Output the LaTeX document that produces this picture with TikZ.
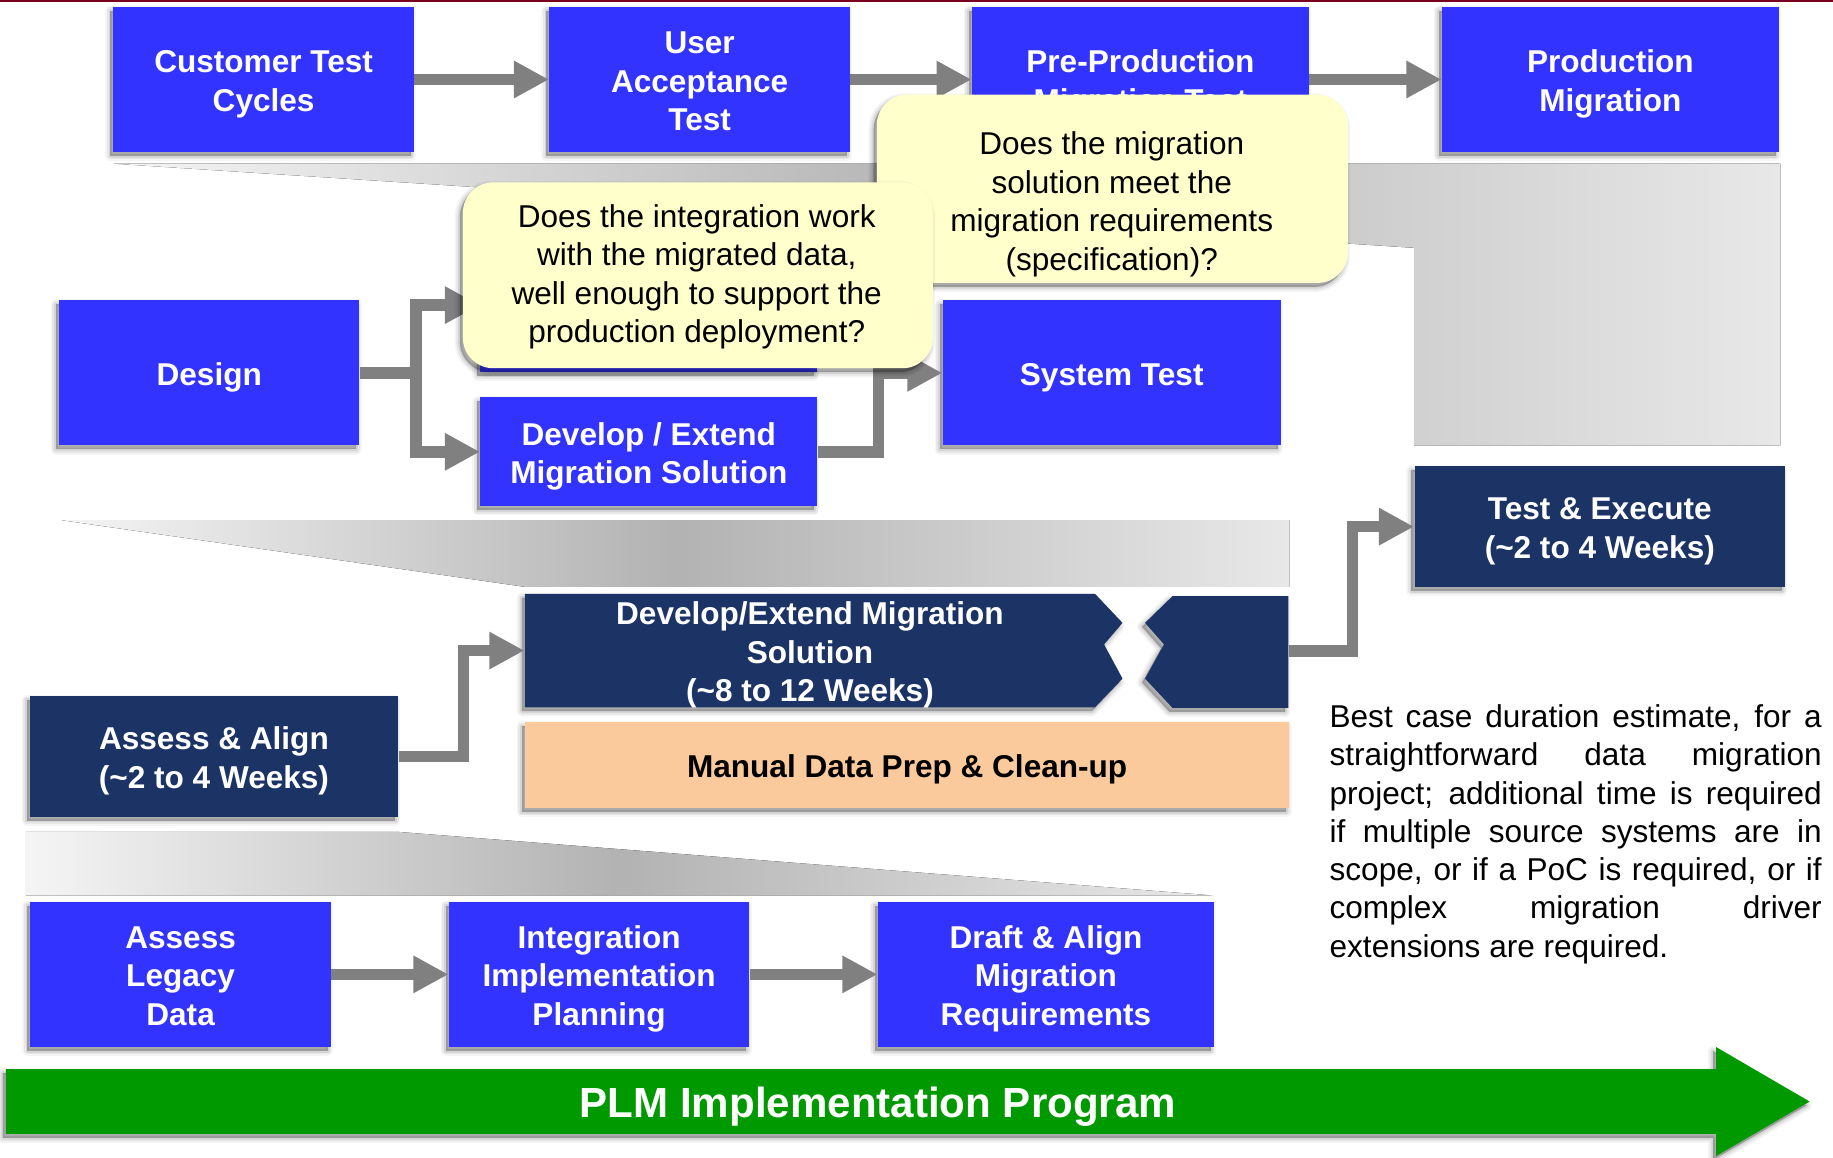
\documentclass[tikz,border=0pt]{standalone}
\usepackage{fontspec}
\setmainfont{Liberation Sans}
\usetikzlibrary{arrows.meta,shadows}
\definecolor{bbox}{RGB}{51,51,255}
\definecolor{navy}{RGB}{28,51,102}
\definecolor{peach}{RGB}{250,202,156}
\definecolor{cyellow}{RGB}{255,255,204}
\definecolor{cgray}{RGB}{128,128,128}
\definecolor{garrow}{RGB}{0,153,0}
\definecolor{redline}{RGB}{122,0,32}
\newcommand\Tst{\rule{0pt}{13.7pt}}
\newcommand\Bst{\rule[-3pt]{0pt}{3pt}}
\tikzset{
  sh/.style={general shadow={shadow xshift=-1.3pt, shadow yshift=-1.7pt, fill=black, draw=black, line join=round, line width=4.5pt, opacity=0.04},
             general shadow={shadow xshift=-1.3pt, shadow yshift=-1.7pt, fill=black, draw=black, line join=round, line width=3pt, opacity=0.06},
             general shadow={shadow xshift=-1.3pt, shadow yshift=-1.7pt, fill=black, draw=black, line join=round, line width=1.5pt, opacity=0.08},
             general shadow={shadow xshift=-1.3pt, shadow yshift=-1.7pt, fill=black, opacity=0.12}},
  boxfont/.style={font=\fontsize{13.5}{16.5}\selectfont\bfseries},
  bb/.style={rectangle, fill=bbox, text=white, boxfont, align=center, inner sep=0pt, sh},
  nb/.style={rectangle, fill=navy, text=white, boxfont, align=center, inner sep=0pt, sh},
  callout/.style={rectangle, rounded corners=13pt, fill=cyellow, inner sep=0pt, sh},
  ctext/.style={font=\fontsize{13.5}{16.5}\selectfont, align=center, text=black, inner sep=0pt},
  conn/.style={draw=cgray, line width=5pt},
  arr/.style={conn, -{Triangle[length=15pt,width=15pt]}},
  wedge/.style={left color=black!4, right color=black!9, middle color=black!30},
}
\begin{document}
\begin{tikzpicture}[x=0.5pt,y=-0.5pt]
\useasboundingbox (0,0) rectangle (1568,990);
\fill[redline] (0,0) rectangle (1568,1.8);

% wedges
\fill[wedge] (97,140) -- (1523,140) -- (1523,381) -- (1209.6,381) -- (1209.6,212) -- cycle;
\fill[wedge] (53,445) -- (1103,445) -- (1103,502) -- (449,502) -- cycle;
\fill[wedge] (22,711.5) -- (339,711.5) -- (1037.5,766) -- (22,766) -- cycle;

% top row
\node[bb, minimum width=128.5pt, minimum height=62pt] (cust) at (225.5,68) {\Tst Customer Test\\Cycles\Bst};
\node[bb, minimum width=128.5pt, minimum height=62pt] (uat) at (598.5,68) {\Tst User\\Acceptance\\Test\Bst};
\node[bb, minimum width=144pt, minimum height=62pt] (preprod) at (975.5,68) {\Tst Pre-Production\\Migration Test\Bst};
\node[bb, minimum width=144pt, minimum height=62pt] (prod) at (1377.5,68) {\Tst Production\\Migration\Bst};
\draw[arr] (cust.east) -- (uat.west);
\draw[arr] (uat.east) -- (preprod.west);
\draw[arr] (preprod.east) -- (prod.west);

% second row
\node[bb, minimum width=128.5pt, minimum height=62pt] (design) at (179,319) {\Tst Design\Bst};
\node[bb, minimum width=144pt, minimum height=57pt] (integ) at (555,261) {};
\node[bb, minimum width=144pt, minimum height=46.5pt] (devext) at (555,386.5) {\Tst Develop / Extend\\Migration Solution\Bst};
\node[bb, minimum width=144.5pt, minimum height=62pt] (systest) at (951,319) {\Tst System Test\Bst};
\coordinate (br) at (356,319);
\coordinate (j2) at (751.5,386.5);
\draw[conn] (design.east) -- (br);
\draw[conn, {Triangle[length=15pt,width=15pt]}-{Triangle[length=15pt,width=15pt]}] (integ.west) -| (br) |- (devext.west);
\draw[arr] (devext.east) -- (j2) |- (systest.west);

% third row
\node[nb, minimum width=158.5pt, minimum height=51.5pt] (testexec) at (1368.5,450.5) {\Tst Test \& Execute\\(\textasciitilde2 to 4 Weeks)\Bst};
\fill[navy, sh] (449,508) -- (936.7,508) -- (960.2,532.8) -- (944.4,551.2) -- (960.2,580.5) -- (936.7,605) -- (449,605) -- cycle;
\fill[navy, sh] (1003,509.9) -- (1102,509.9) -- (1102,605.6) -- (1003,605.6) -- (979.5,580.5) -- (995.7,551.2) -- (979.5,532.8) -- cycle;
\node[boxfont, text=white, align=center, inner sep=0pt, minimum width=243.85pt, minimum height=48.5pt] (ddev) at (692.85,556.5) {\Tst Develop/Extend Migration\\Solution\\(\textasciitilde8 to 12 Weeks)\Bst};
\node[inner sep=0pt, minimum width=61.25pt, minimum height=48pt] (ddevR) at (1040.75,557) {};
\node[rectangle, fill=peach, text=black, boxfont, inner sep=0pt, minimum width=327pt, minimum height=36.5pt, sh] (manual) at (776,654.5) {\Tst Manual Data Prep \& Clean-up\Bst};
\node[nb, minimum width=157.5pt, minimum height=51.5pt] (assess) at (183,647) {\Tst Assess \& Align\\(\textasciitilde2 to 4 Weeks)\Bst};
\coordinate (j3) at (396.5,647);
\coordinate (j4) at (1157,557);
\draw[arr] (assess.east) -- (j3) |- (ddev.west);
\draw[arr] (ddevR.east) -- (j4) |- (testexec.west);

% bottom row
\node[bb, minimum width=128.5pt, minimum height=62pt] (legacy) at (154.5,833.5) {\Tst Assess\\Legacy\\Data\Bst};
\node[bb, minimum width=128.5pt, minimum height=62pt] (integplan) at (512.5,833.5) {\Tst Integration\\Implementation\\Planning\Bst};
\node[bb, minimum width=143.75pt, minimum height=62pt] (draft) at (894.75,833.5) {\Tst Draft \& Align\\Migration\\Requirements\Bst};
\draw[arr] (legacy.east) -- (integplan.west);
\draw[arr] (integplan.east) -- (draft.west);

% green program arrow
\fill[garrow, sh] (5,914.5) -- (1468,914.5) -- (1468,895.7) -- (1548,942.3) -- (1468,988.9) -- (1468,970) -- (5,970) -- cycle;
\node[font=\fontsize{18}{21}\selectfont\bfseries, text=white, inner sep=0pt] (plm) at (751,947) {PLM Implementation Program};

% note text
\node[anchor=north west, inner sep=0pt, align=left, font=\fontsize{13.5}{16.35}\selectfont] (note) at (1137,602.5) {%
\makebox[210.5pt][s]{Best case duration estimate, for a}\\
\makebox[210.5pt][s]{straightforward data migration}\\
\makebox[210.5pt][s]{project; additional time is required}\\
\makebox[210.5pt][s]{if multiple source systems are in}\\
\makebox[210.5pt][s]{scope, or if a PoC is required, or if}\\
\makebox[210.5pt][s]{complex migration driver}\\
extensions are required.};

% callouts
\node[callout, minimum width=201.5pt, minimum height=80.5pt] (c2) at (951.5,161.5) {};
\node[ctext] (c2t) at (951,171) {\Tst Does the migration\\solution meet the\\migration requirements\\(specification)?\Bst};
\node[callout, minimum width=201pt, minimum height=79.5pt] (c1) at (597,235.5) {};
\node[ctext] (c1t) at (596,233) {\Tst Does the integration work\\with the migrated data,\\well enough to support the\\production deployment?\Bst};
\end{tikzpicture}
\end{document}
